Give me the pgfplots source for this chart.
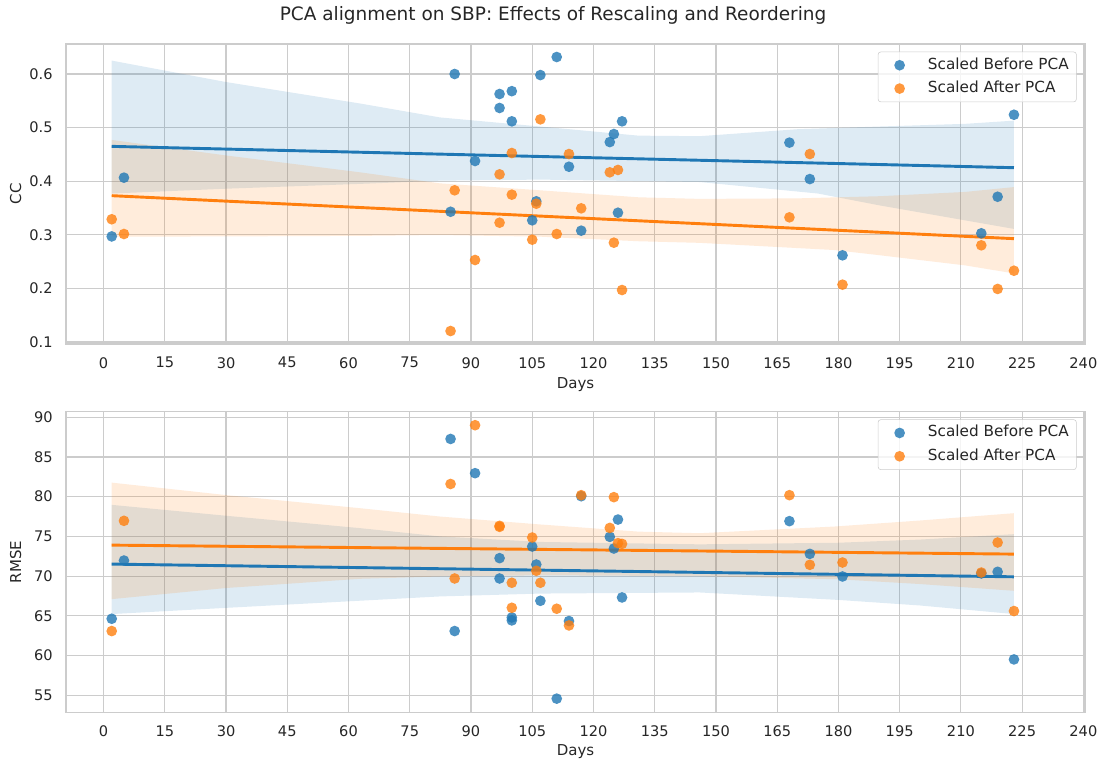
\documentclass[border=0pt]{standalone}
\usepackage{fontspec}
\setmainfont{DejaVu Sans}
\usepackage{pgfplots}
\pgfplotsset{compat=1.18}
\definecolor{cblue}{RGB}{31,119,180}
\definecolor{corange}{RGB}{255,127,14}
\definecolor{gridc}{RGB}{204,204,204}
\definecolor{txt}{RGB}{38,38,38}
\pgfplotsset{
  base/.style={
    scale only axis, width=733.68pt,
    xmin=-9.2, xmax=240.4,
    xtick={0,15,...,240},
    grid=major,
    major grid style={draw=gridc, line width=0.8pt},
    axis line style={draw=gridc, line width=1pt},
    major tick length=0pt,
    tick label style={font=\fontsize{10.5}{12}\selectfont, text=txt},
    /pgf/number format/assume math mode=true,
    xticklabel style={anchor=center, yshift=-13.5pt},
    yticklabel style={anchor=east, inner sep=0pt, xshift=-9.4pt},
    legend cell align=left,
    legend image code/.code={
      \path (-9.8pt,0pt) (20.2pt,0pt);
      \draw[##1] plot coordinates {(0pt,0pt)};
    },
    legend style={at={(1,1)}, anchor=north east, xshift=-6pt, yshift=-5.5pt,
      draw=gridc, rounded corners=2pt, fill=white, fill opacity=0.8, text opacity=1,
      font=\fontsize{11}{13}\selectfont, text=txt, inner xsep=5.5pt, inner ysep=1.2pt,
      nodes={inner xsep=0pt, inner ysep=3.15pt, text height=8pt, text depth=2.5pt},
      row sep=0pt},
  },
  scat/.style={only marks, mark=*, mark size=3.85pt, color=#1,
    mark options={solid, fill=#1, draw=#1, fill opacity=0.8, draw opacity=0}},
  band/.style={draw=none, fill=#1, fill opacity=0.15, forget plot},
  reg/.style={draw=#1, line width=2.1pt, forget plot, no marks},
}
\begin{document}
\begin{tikzpicture}
\path[use as bounding box] (0,0) rectangle (797.76pt,548.64pt);
% ---------- top: CC ----------
\begin{axis}[base, at={(47.52pt,300.96pt)}, anchor=south west, height=216pt,
  ymin=0.0963, ymax=0.656, ytick={0.1,0.2,0.3,0.4,0.5,0.6},
  yticklabel style={/pgf/number format/.cd, fixed, fixed zerofill, precision=1}]
\addplot[scat=cblue] coordinates {
(2,0.297) (5,0.4066) (85,0.343) (86,0.600) (91,0.4377) (97,0.5627) (97,0.5366)
(100,0.568) (100,0.5117) (105,0.327) (106,0.3625) (107,0.598) (111,0.6317)
(114,0.427) (117,0.3077) (124,0.473) (125,0.488) (126,0.3412) (127,0.5117)
(168,0.472) (173,0.404) (181,0.2617) (215,0.3028) (219,0.371) (223,0.524)};
\addlegendentry{Scaled Before PCA}
\addplot[band=cblue] coordinates {
(2,0.625) (30,0.585) (62.8,0.545) (82.4,0.519) (107,0.502) (131,0.485) (146,0.484)
(170,0.497) (190,0.502) (211,0.507) (223,0.513)
(223,0.311) (211,0.327) (190,0.355) (175,0.377) (146,0.3985) (107,0.403)
(82.4,0.401) (62.8,0.395) (30,0.386) (2,0.377)} -- cycle;
\addplot[scat=corange] coordinates {
(2,0.329) (5,0.3015) (85,0.1205) (86,0.383) (91,0.253) (97,0.4128) (97,0.3226)
(100,0.4526) (100,0.3749) (105,0.2909) (106,0.358) (107,0.5154) (111,0.3015)
(114,0.4507) (117,0.3494) (124,0.4166) (125,0.2853) (126,0.421) (127,0.197)
(168,0.3326) (173,0.4507) (181,0.207) (215,0.2804) (219,0.199) (223,0.233)};
\addlegendentry{Scaled After PCA}
\addplot[band=corange] coordinates {
(2,0.477) (30,0.448) (62.8,0.4166) (82.4,0.396) (107,0.383) (131,0.37) (146,0.367)
(170,0.368) (190,0.372) (211,0.38) (223,0.389)
(223,0.228) (211,0.243) (190,0.262) (179,0.2716) (146,0.285) (131,0.288)
(107,0.2965) (82.4,0.2996) (62.8,0.298) (30,0.297) (2,0.2965)} -- cycle;
\addplot[reg=cblue] coordinates {(2,0.465) (223,0.4252)};
\addplot[reg=corange] coordinates {(2,0.373) (223,0.2928)};
\end{axis}
% ---------- bottom: RMSE ----------
\begin{axis}[base, at={(47.52pt,35.5pt)}, anchor=south west, height=216.7pt,
  ymin=52.8, ymax=90.7, ytick={55,60,...,90}]
\addplot[scat=cblue] coordinates {
(2,64.63) (5,71.96) (85,87.27) (86,63.08) (91,82.96) (97,72.26) (97,69.70)
(100,64.79) (100,64.42) (105,73.72) (106,71.46) (107,66.89) (111,54.57)
(114,64.34) (117,80.06) (124,74.94) (125,73.47) (126,77.12) (127,67.31)
(168,76.92) (173,72.8) (181,69.95) (215,70.33) (219,70.54) (223,59.51)};
\addlegendentry{Scaled Before PCA}
\addplot[band=cblue] coordinates {
(2,78.97) (30,77.6) (62.8,76.04) (82.4,75.0) (107,74.3) (146,74.0) (180,74.2)
(200,74.6) (223,75.28)
(223,65.22) (200,66.3) (180,67.0) (146,67.94) (107,67.8) (82.4,67.44)
(62.8,66.9) (30,66.0) (2,65.22)} -- cycle;
\addplot[scat=corange] coordinates {
(2,63.08) (5,76.96) (85,81.6) (86,69.70) (91,89.0) (97,76.33) (97,76.2)
(100,69.16) (100,66.01) (105,74.86) (106,70.67) (107,69.16) (111,65.89)
(114,63.79) (117,80.19) (124,76.07) (125,79.94) (126,74.15) (127,74.06)
(168,80.19) (173,71.42) (181,71.71) (215,70.45) (219,74.23) (223,65.6)};
\addlegendentry{Scaled After PCA}
\addplot[band=corange] coordinates {
(2,81.77) (30,80.2) (62.8,78.55) (82.4,77.5) (107,76.5) (131,75.6) (146,75.4)
(179,76.24) (200,77.0) (223,77.92)
(223,68.15) (200,69.0) (180,69.6) (146,70.0) (107,70.1) (82.4,69.95)
(62.8,69.66) (30,68.5) (2,67.1)} -- cycle;
\addplot[reg=cblue] coordinates {(2,71.51) (223,69.91)};
\addplot[reg=corange] coordinates {(2,73.9) (223,72.77)};
\end{axis}
% ---------- text ----------
\node[font=\fontsize{13.3}{16}\selectfont, text=txt] at (398.2pt,537.8pt)
  {PCA alignment on SBP: Effects of Rescaling and Reordering};
\node[font=\fontsize{10.8}{13}\selectfont, text=txt, rotate=90] at (11.3pt,409pt) {CC};
\node[font=\fontsize{10.8}{13}\selectfont, text=txt, rotate=90] at (11.3pt,143.9pt) {RMSE};
\node[font=\fontsize{10.8}{13}\selectfont, text=txt] at (414.4pt,271.4pt) {Days};
\node[font=\fontsize{10.8}{13}\selectfont, text=txt] at (414.4pt,7.4pt) {Days};
\end{tikzpicture}
\end{document}
